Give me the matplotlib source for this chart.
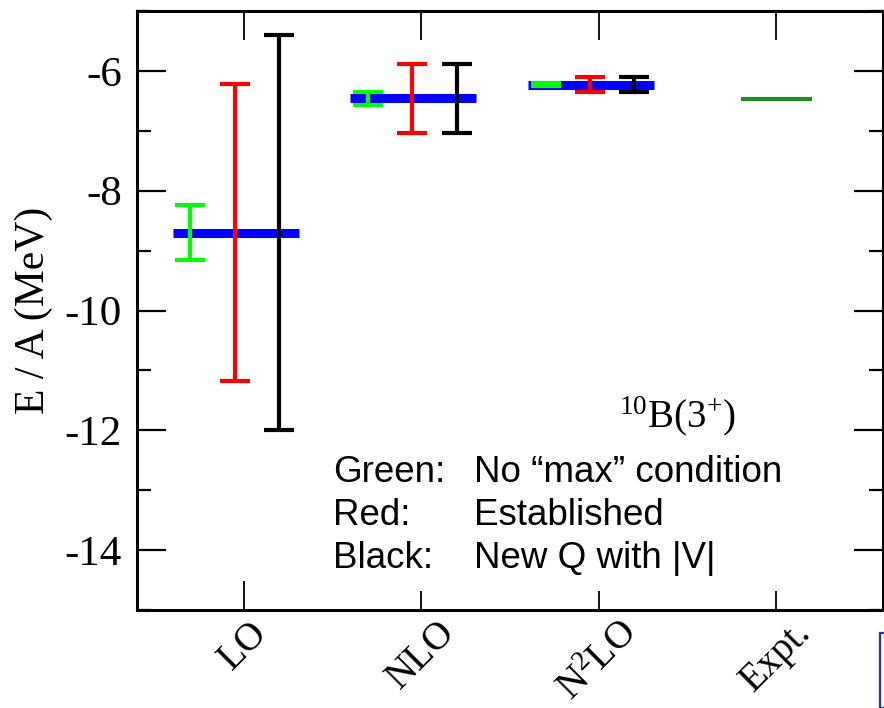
import matplotlib
matplotlib.use("Agg")
import matplotlib.pyplot as plt
from matplotlib.patches import Rectangle

# ---- data ----
categories = ["LO", "NLO", "N$^2$LO", "Expt."]
central = [-8.70, -6.46, -6.23]          # LO, NLO, N2LO central values (blue bars)
green_err = [0.46, 0.105, 0.03]          # No "max" condition
red_err = [2.475, 0.57, 0.13]            # Established
black_err = [3.30, 0.58, 0.12]           # New Q with |V|
expt_value = -6.47

plt.rcParams['axes.unicode_minus'] = False
plt.rcParams['mathtext.fontset'] = 'custom'
plt.rcParams['mathtext.rm'] = 'Liberation Serif'
plt.rcParams['mathtext.it'] = 'Liberation Serif:italic'

fig = plt.figure(figsize=(8.84, 7.08), dpi=100)
ax = fig.add_axes([137/884, 1 - 610/708, (883 - 137)/884, (610 - 11)/708])

xpos = [1, 2, 3]
off_g, off_r, off_b = -0.30, -0.05, 0.20

# blue central bars
ax.hlines(central, [x - 0.40 for x in xpos], [x + 0.31 for x in xpos],
          colors='#0000ff', lw=6.5, zorder=2)

eb_kw = dict(fmt='none', elinewidth=3, capsize=11, capthick=3, zorder=3)
ax.errorbar([x + off_g for x in xpos], central, yerr=green_err, ecolor='#00ff00', **eb_kw)
ax.errorbar([x + off_r for x in xpos], central, yerr=red_err, ecolor='#ff0000', **eb_kw)
ax.errorbar([x + off_b for x in xpos], central, yerr=black_err, ecolor='#000000', **eb_kw)

# experiment
ax.hlines([expt_value], [4 - 0.20], [4 + 0.20], colors='#1f8f1f', lw=3, zorder=2)

ax.set_xlim(0.4, 4.6)
ax.set_ylim(-15, -5)
ax.set_yticks([-14, -12, -10, -8, -6])
ax.set_yticks([-15, -13, -11, -9, -7, -5], minor=True)
ax.set_xticks([1, 2, 3, 4])
ax.set_xticklabels(categories, rotation=45, ha='center', va='top',
                   fontfamily='Liberation Serif', fontsize=28)

for sp in ax.spines.values():
    sp.set_linewidth(2.2)

ax.tick_params(axis='y', which='major', direction='in', length=21, width=1.6,
               left=True, right=True, labelsize=31, pad=11)
ax.tick_params(axis='y', which='minor', direction='in', length=10, width=1.6,
               left=True, right=True)
ax.tick_params(axis='x', which='major', direction='in', length=14, width=1.3,
               top=True, bottom=True, pad=3)
for lab in ax.get_yticklabels():
    lab.set_fontfamily('Liberation Serif')
xt = ax.xaxis.get_major_ticks()
for i, t in enumerate(xt):
    t.tick2line.set_markersize(21)
    if i == 0:
        t.tick1line.set_markersize(21)

ax.set_ylabel("E / A (MeV)", fontfamily='Liberation Serif', fontsize=30, labelpad=8)

# annotation
ax.text(619, 708 - 427, "$^{10}$B(3$^{+}$)", transform=None,
        fontfamily='Liberation Serif', fontsize=28, ha='left', va='baseline')

leg_lbl = ["Green:", "Red:", "Black:"]
leg_txt = ["No \u201cmax\u201d condition", "Established", "New Q with |V|"]
for k, (a, b) in enumerate(zip(leg_lbl, leg_txt)):
    yb = 708 - (482 + 43 * k)
    ax.text(333, yb, a, transform=None, fontfamily='Liberation Sans',
            fontsize=26.5, ha='left', va='baseline')
    ax.text(474, yb, b, transform=None, fontfamily='Liberation Sans',
            fontsize=26.5, ha='left', va='baseline')

# partial box at lower right
fig.patches.append(Rectangle((880/884, 0), 0.05, (708 - 633)/708,
                             transform=fig.transFigure, fill=False,
                             edgecolor='#2030b0', lw=1.6))

fig.savefig("out.png", dpi=100)
